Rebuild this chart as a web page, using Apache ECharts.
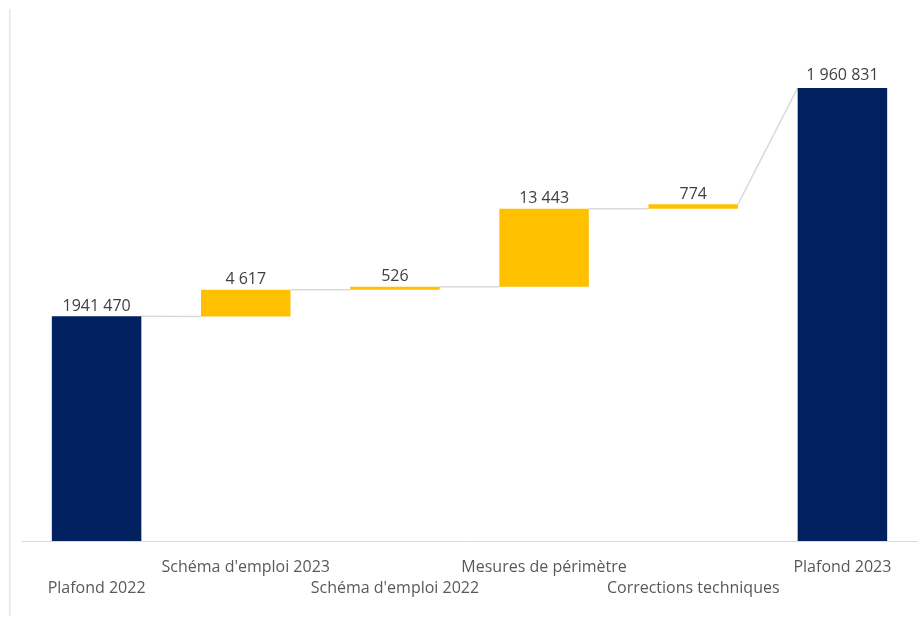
<!DOCTYPE html>
<html><head><meta charset="utf-8">
<script src="https://cdn.jsdelivr.net/npm/echarts@6/dist/echarts.min.js"></script>
<style>html,body{margin:0;padding:0;background:#fff}#c{width:920px;height:618px}</style>
</head><body><div id="c"></div>
<script>
const categories = ['Plafond 2022', "Schéma d'emploi 2023", "Schéma d'emploi 2022", 'Mesures de périmètre', 'Corrections techniques', 'Plafond 2023'];
const totals = [1941470, null, null, null, null, 1960831];
const changes = [null, 4617, 526, 13443, 774, null];
const valueLabels = ['1941 470', '4 617', '526', '13 443', '774', '1 960 831'];

// value ranges of the two (hidden) value axes: totals and variations
const totalAxis = {min: 1922400, max: 1966600};
const changeAxis = {min: 1902760, max: 1992590};

const bases = [];
let run = totals[0];
for (let i = 0; i < categories.length; i++) {
  if (changes[i] != null) { bases.push(run); run += changes[i]; } else bases.push(null);
}
function toTotalAxis(v) {
  return totalAxis.min + (v - changeAxis.min) * (totalAxis.max - totalAxis.min) / (changeAxis.max - changeAxis.min);
}
function endLevel(i) { return totals[i] != null ? totals[i] : toTotalAxis(bases[i] + changes[i]); }
function startLevel(i) { return totals[i] != null ? totals[i] : toTotalAxis(bases[i]); }
const connectors = [];
for (let i = 0; i < categories.length - 1; i++) connectors.push([i, endLevel(i), startLevel(i + 1)]);

const dash = v => v == null ? '-' : v;
const font = '"Open Sans", "Noto Sans", sans-serif';

const chart = echarts.init(document.getElementById('c'), null, {renderer: 'canvas'});
chart.setOption({
  animation: false,
  backgroundColor: '#ffffff',
  grid: {left: 22, right: 3, top: 20, bottom: 77, containLabel: false, outerBoundsMode: 'none'},
  graphic: [{type: 'line', shape: {x1: 9.75, y1: 9, x2: 9.75, y2: 616}, style: {stroke: '#e6e6e6', lineWidth: 1.5}, silent: true}],
  xAxis: {
    type: 'category', data: categories,
    axisLine: {lineStyle: {color: '#d9d9d9', width: 1}},
    axisTick: {show: false},
    axisLabel: {
      interval: 0, margin: 16, color: '#595959', fontFamily: font, fontSize: 16, lineHeight: 21,
      formatter: (v, i) => (i % 2 === 0 ? '\n' + v : v)
    }
  },
  yAxis: [
    {type: 'value', min: totalAxis.min, max: totalAxis.max, show: false, splitLine: {show: false}},
    {type: 'value', min: changeAxis.min, max: changeAxis.max, show: false, splitLine: {show: false}}
  ],
  series: [
    {
      type: 'custom', name: 'connectors', xAxisIndex: 0, yAxisIndex: 0, z: 1,
      data: connectors, encode: {x: 0, y: [1, 2]},
      renderItem: (params, api) => {
        const i = api.value(0);
        const p1 = api.coord([i, api.value(1)]);
        const p2 = api.coord([i + 1, api.value(2)]);
        const hw = api.size([1, 0])[0] * 0.3;
        return {type: 'line', shape: {x1: p1[0] + hw, y1: p1[1], x2: p2[0] - hw, y2: p2[1]},
                style: {stroke: '#d9d9d9', lineWidth: 1.5}};
      }
    },
    {
      type: 'bar', name: 'totals', yAxisIndex: 0, barWidth: '60%', barGap: '-100%', z: 3,
      data: totals.map((v, i) => v == null ? '-' : (i === totals.length - 1 ? {value: v, label: {distance: 5}} : v)),
      itemStyle: {color: '#002060'},
      label: {show: true, position: 'top', distance: 2, color: '#404040', fontFamily: font, fontSize: 16, lineHeight: 16,
              formatter: p => valueLabels[p.dataIndex]}
    },
    {
      type: 'bar', name: 'base', yAxisIndex: 1, stack: 'wf', barWidth: '60%', barGap: '-100%', z: 2,
      data: bases.map(dash), itemStyle: {color: 'transparent'}, silent: true
    },
    {
      type: 'bar', name: 'variation', yAxisIndex: 1, stack: 'wf', barWidth: '60%', barGap: '-100%', z: 3,
      data: changes.map(dash),
      itemStyle: {color: '#FFC000'},
      label: {show: true, position: 'top', distance: 2, color: '#404040', fontFamily: font, fontSize: 16, lineHeight: 16,
              formatter: p => valueLabels[p.dataIndex]}
    }
  ]
});
</script></body></html>
